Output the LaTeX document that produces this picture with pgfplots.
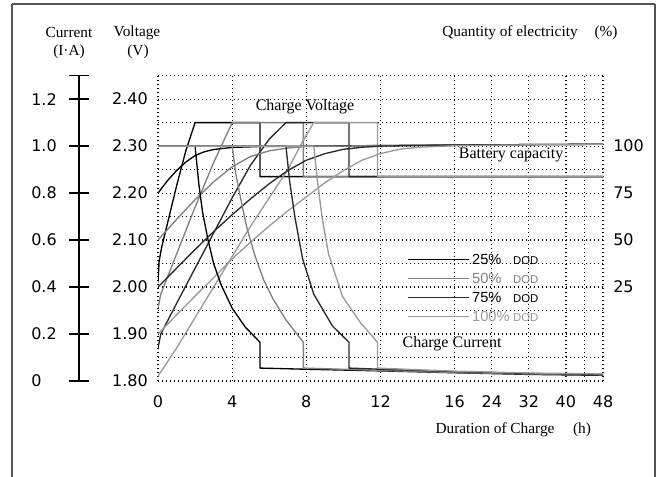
\documentclass[border=0pt]{standalone}
\usepackage{fontspec}
\setmainfont{Liberation Serif}
\newfontfamily\numfont{DejaVu Sans}
\newfontfamily\legfont{Liberation Sans}
\usepackage{pgfplots}
\pgfplotsset{compat=1.18}

\definecolor{dodA}{HTML}{000000}
\definecolor{dodB}{HTML}{808080}
\definecolor{dodC}{HTML}{2A2A2A}
\definecolor{dodD}{HTML}{9A9A9A}
\definecolor{framegray}{HTML}{555555}

% x is a "display hour": 0..16 h linear, then 24/32/40/48 h at 18/20/22/24
\pgfplotsset{
  base/.style={scale only axis, width=333.75pt, height=229pt,
    xmin=0, xmax=24, at={(118.5pt,72pt)}, anchor=south west},
  numlab/.style={font=\numfont\fontsize{12}{14}\selectfont},
  crv/.style={line width=1pt, line join=round},
}
\newcommand{\dod}{{\fontsize{8.5}{9}\selectfont DOD}}

\begin{document}
\begin{tikzpicture}
\clip (0,0) rectangle (499.5pt,357.75pt);
\draw[framegray, line width=1.1pt] (9pt,354.75pt) -- (9pt,-5pt)
  (491.25pt,354.75pt) -- (491.25pt,-5pt) (9pt,354.75pt) -- (491.25pt,354.75pt);

% voltage axis (grid, labels, charge voltage curves)
\begin{axis}[base, ymin=1.8, ymax=2.45,
  xtick={0,4,8,12,16,18,20,22,24}, xticklabels={0,4,8,12,16,24,32,40,48},
  minor xtick={23},
  ytick={1.8,1.9,2.0,2.1,2.2,2.3,2.4},
  yticklabels={1.80,1.90,2.00,2.10,2.20,2.30,2.40},
  minor ytick={1.85,1.95,2.05,2.15,2.25,2.35,2.45},
  grid=both,
  major grid style={black, line width=0.9pt, dash pattern=on 1.1pt off 1.9pt},
  minor grid style={black, line width=0.9pt, dash pattern=on 1.1pt off 1.9pt},
  axis line style={draw=none}, major tick length=0pt, minor tick length=0pt,
  tick label style={numlab},
  xticklabel style={inner sep=0pt, anchor=north, yshift=-11pt},
  yticklabel style={inner sep=0pt, anchor=east, xshift=-7.5pt},
]
\addplot[crv, dodA] coordinates {(0,2.01) (0.06,2.055) (0.2,2.085) (0.6,2.15) (1.0,2.215) (1.5,2.29) (2.0,2.35) (5.5,2.35) (5.5,2.235) (24,2.235)};
\addplot[crv, dodB] coordinates {(0,1.955) (0.15,1.985) (1,2.07) (2,2.17) (3,2.265) (4,2.35) (7.84,2.35) (7.84,2.235) (24,2.235)};
\addplot[crv, dodC] coordinates {(0,1.87) (0.15,1.90) (1,1.965) (2,2.04) (3,2.115) (4,2.19) (5,2.26) (6,2.315) (6.9,2.35) (10.3,2.35) (10.3,2.235) (24,2.235)};
\addplot[crv, dodD] coordinates {(0,1.81) (1,1.87) (2,1.935) (3,2.0) (4,2.065) (5,2.13) (6,2.19) (7,2.25) (7.8,2.31) (8.4,2.35) (11.84,2.35) (11.84,2.235) (24,2.235)};
\node[font=\fontsize{12}{14}\selectfont] at (axis cs:7.93,2.383) {Charge Voltage};
\node[font=\fontsize{12}{14}\selectfont] at (axis cs:19.04,2.281) {Battery capacity};
\node[font=\fontsize{12}{14}\selectfont] at (axis cs:15.86,1.879) {Charge Current};
\end{axis}

% quantity of electricity (%)
\begin{axis}[base, ymin=-25, ymax=137.5, axis x line=none, axis y line*=right,
  axis line style={draw=none}, ytick={25,50,75,100}, yticklabels={25,50,75,100},
  major tick length=0pt,
  yticklabel style={numlab, anchor=west, inner sep=0pt, xshift=7.5pt}]
\addplot[crv, dodA] coordinates {(0,75) (0.5,81.5) (1,87) (1.5,91.5) (2,95) (2.5,97) (3,98.2) (4,99.3) (5.5,99.8) (8,100) (12,100.3) (16,100.6) (24,101)};
\addplot[crv, dodB] coordinates {(0,50) (1,61) (2,71.5) (3,81) (4,89) (5,94.5) (6,97.5) (7,99) (8,99.8) (12,100.3) (16,100.6) (24,101)};
\addplot[crv, dodC] coordinates {(0,25) (1,35) (2,45) (3,54.5) (4,63.5) (5,72) (6,80) (7,87) (8,92.5) (9,96) (10,98.3) (11,99.4) (12,100) (16,100.6) (24,101)};
\addplot[crv, dodD] coordinates {(0,0) (1,10.2) (2,20.2) (3,30) (4,40) (5,49) (6,57.5) (7,65.5) (8,73) (9,80.5) (10,87) (11,92.5) (12,96) (13,98.3) (14,99.4) (16,100.2) (20,100.7) (24,101)};
\end{axis}

% charge current
\begin{axis}[base, ymin=0, ymax=1.3, hide axis,
  legend style={at={(0.551,0.426)}, anchor=north west, draw=none, fill=none,
    font=\legfont\fontsize{11}{12}\selectfont,
    nodes={inner sep=0pt, text height=8pt, text depth=1pt}, row sep=5.25pt,
    /tikz/every odd column/.append style={column sep=1.5pt}},
  legend cell align=left,
  legend image code/.code={\draw[#1] (0pt,0.3pt) -- (46pt,0.3pt);},
]
\addplot[crv, dodA] coordinates {(0,1) (2,1) (2.2,0.84) (2.4,0.72) (2.7,0.6) (3,0.5) (3.4,0.41) (4,0.31) (4.7,0.23) (5.5,0.165) (5.5,0.055) (8,0.05) (12,0.043) (16,0.035) (20,0.028) (24,0.024)};
\addlegendentry{\makebox[30.75pt][l]{25\%}\dod}
\addplot[crv, dodB] coordinates {(0,1) (4,1) (4.2,0.88) (4.45,0.78) (4.8,0.65) (5.2,0.54) (5.7,0.43) (6.2,0.35) (6.9,0.26) (7.84,0.165) (7.84,0.055) (10,0.05) (12,0.045) (16,0.036) (20,0.03) (24,0.026)};
\addlegendentry{\color{dodB}\makebox[30.75pt][l]{50\%}\dod}
\addplot[crv, dodC] coordinates {(0,1) (6.9,1) (7.1,0.85) (7.4,0.69) (7.8,0.52) (8.4,0.37) (9.4,0.235) (10.3,0.165) (10.3,0.055) (12,0.05) (16,0.04) (20,0.032) (24,0.028)};
\addlegendentry{\makebox[30.75pt][l]{75\%}\dod}
\addplot[crv, dodD] coordinates {(0,1) (8.4,1) (8.6,0.85) (8.86,0.69) (9.2,0.54) (9.95,0.36) (10.9,0.25) (11.84,0.165) (11.84,0.055) (14,0.048) (16,0.042) (20,0.034) (24,0.03)};
\addlegendentry{\color{dodD}\makebox[30.75pt][l]{100\%}\dod}
\end{axis}

% current scale on the left
\begin{axis}[scale only axis, width=1pt, height=229pt, at={(59.25pt,72pt)},
  anchor=south west, xmin=0, xmax=1, ymin=0, ymax=1.3,
  axis x line=none, axis y line*=left,
  ytick={0,0.2,0.4,0.6,0.8,1.0,1.2,1.3},
  yticklabels={0,0.2,0.4,0.6,0.8,1.0,1.2,{}},
  tick align=center, major tick length=15pt,
  tick style={black, line width=1.2pt},
  axis line style={black, line width=1.3pt},
  yticklabel style={numlab, anchor=west, inner sep=0pt, xshift=-28.5pt}]
\end{axis}

\begin{scope}[font=\fontsize{11.5}{13}\selectfont]
\node at (51.75pt,333pt) {Current};
\node at (51.75pt,318.75pt) {(I·A)};
\node at (102.75pt,333pt) {Voltage};
\node at (103.5pt,318.75pt) {(V)};
\node at (382.5pt,333pt) {Quantity of electricity};
\node at (454.5pt,333pt) {(\%)};
\node at (371.25pt,35.25pt) {Duration of Charge};
\node at (436.5pt,35.25pt) {(h)};
\end{scope}
\end{tikzpicture}
\end{document}
